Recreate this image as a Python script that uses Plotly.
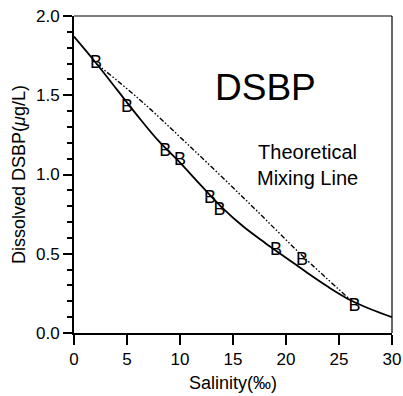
import plotly.graph_objects as go

# Observed DSBP samples (plotted as "B" markers)
salinity_obs = [2.08, 5.0, 8.6, 10.0, 12.84, 13.72, 19.05, 21.5, 26.47]
dsbp_obs = [1.70, 1.42, 1.143, 1.088, 0.85, 0.776, 0.52, 0.456, 0.168]

# Fitted curve through the samples (solid)
salinity_fit = [0, 2, 4, 6, 8, 10, 12, 14, 16, 18, 20, 22, 24, 26, 28, 30]
dsbp_fit = [1.87, 1.71, 1.54, 1.37, 1.21, 1.075, 0.93, 0.79, 0.67, 0.57,
            0.475, 0.38, 0.29, 0.21, 0.15, 0.10]

# Theoretical mixing line (dash-dot)
salinity_mix = [2.08, 6.07, 10.8, 16.5, 21.5, 26.06]
dsbp_mix = [1.70, 1.48, 1.186, 0.82, 0.49, 0.21]

font = "Liberation Sans, Arial, sans-serif"

fig = go.Figure()

fig.add_trace(go.Scatter(
    x=salinity_fit, y=dsbp_fit, mode="lines",
    line={"color": "black", "width": 1.8, "shape": "spline"},
    showlegend=False, hoverinfo="skip",
))

fig.add_trace(go.Scatter(
    x=salinity_mix, y=dsbp_mix, mode="lines",
    line={"color": "black", "width": 1.4, "dash": "5px,2px,1.5px,2px,1.5px,2px", "shape": "spline"},
    showlegend=False, hoverinfo="skip",
))

fig.add_trace(go.Scatter(
    x=salinity_obs, y=dsbp_obs, mode="text",
    text=["B"] * len(salinity_obs), textposition="middle center",
    textfont={"family": font, "size": 18, "color": "black"},
    showlegend=False,
))

# top and right frame lines
fig.add_shape(type="line", xref="paper", yref="paper", x0=0, x1=1, y0=1, y1=1,
              line={"color": "black", "width": 1.2})
fig.add_shape(type="line", xref="paper", yref="paper", x0=1, x1=1, y0=0, y1=1,
              line={"color": "black", "width": 1.2})

fig.add_annotation(x=18.05, y=1.55, text="DSBP", showarrow=False,
                   font={"family": font, "size": 37, "color": "black"})
fig.add_annotation(x=22.0, y=1.06, text="Theoretical<br>Mixing Line", showarrow=False,
                   font={"family": font, "size": 20, "color": "black"})

fig.update_layout(
    width=403, height=396,
    margin={"l": 74, "r": 11, "t": 16, "b": 63},
    paper_bgcolor="white", plot_bgcolor="white",
    font={"family": font, "size": 17, "color": "black"},
)

fig.update_xaxes(
    range=[0, 30], tickvals=[0, 5, 10, 15, 20, 25, 30],
    ticks="outside", ticklen=10, tickwidth=1.5, tickcolor="black",
    showline=True, linecolor="black", linewidth=2,
    showgrid=False, zeroline=False, automargin=False,
    title={"text": "Salinity(‰)", "font": {"size": 18}, "standoff": 8},
)

fig.update_yaxes(
    range=[0, 2.0], tickvals=[0, 0.5, 1.0, 1.5, 2.0], tickformat=".1f",
    ticks="outside", ticklen=9, tickwidth=1.5, tickcolor="black",
    minor={"dtick": 0.1, "ticks": "outside", "ticklen": 5, "tickcolor": "black", "showgrid": False},
    showline=True, linecolor="black", linewidth=2,
    showgrid=False, zeroline=False, automargin=False,
    title={"text": "Dissolved DSBP(<i>μ</i>g/L)", "font": {"size": 18}, "standoff": 6},
)

# the page body has a default 8px margin; remove it so the figure sits at 0,0
fig.write_html("out.html", config={"displayModeBar": False},
               post_script="document.body.style.margin='0';")
